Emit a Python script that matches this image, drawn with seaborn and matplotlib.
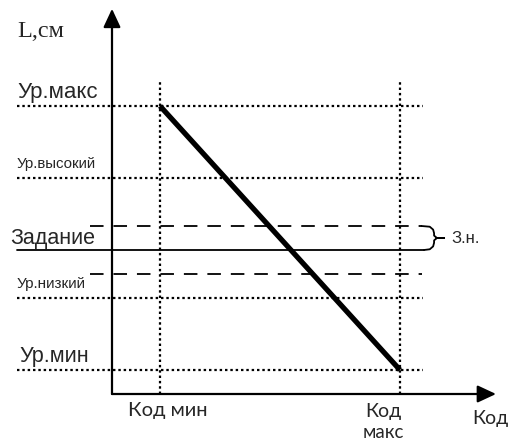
import numpy as np
import matplotlib
matplotlib.use("Agg")
import matplotlib.pyplot as plt
import seaborn as sns

# levels (y units) and codes (x units)
level_names = ["Ур.макс", "Ур.высокий", "Ур.низкий", "Ур.мин"]
level_values = [12, 9, 4, 1]
setpoint_name = "Задание"
setpoint_value = 6
band_values = [7, 5]          # зона нечувствительности
band_label = "З.н."
code_names = ["Код мин", "Код", "макс"]
code_values = [1, 6]
line_x = [1, 6]               # код -> уровень
line_y = [12, 1]
x_label = "Код"
y_label = "L,см"

sns.set_theme(style="white")
plt.rcParams["font.family"] = ["Liberation Sans", "DejaVu Sans"]

fig = plt.figure(figsize=(5.12, 4.43), dpi=100)
ax = fig.add_axes([0, 0, 1, 1])
ax.set_xlim(-112 / 48, 400 / 48)
ax.set_ylim(-49 / 24, 394 / 24)
ax.axis("off")

# horizontal level lines (dotted)
dot = (0, (1.1, 1.3))
for v in level_values:
    ax.plot([-1.98, 6.48], [v, v], color="black", lw=1.6, linestyle=dot)
# band dashed
for v in band_values:
    ax.plot([-0.46, 6.45], [v, v], color="black", lw=1.3, linestyle=(0, (7.5, 5.5)))
# setpoint solid
ax.plot([-1.98, 6.5], [setpoint_value, setpoint_value], color="black", lw=1.3)

# vertical code lines
for c in code_values:
    ax.plot([c, c], [0, 13], color="black", lw=1.6, linestyle=dot)

# main line
sns.lineplot(x=line_x, y=line_y, color="black", linewidth=3.8, ax=ax,
             solid_capstyle="butt")

# axes with arrows
ax.annotate("", xy=(0, 16.05), xytext=(0, 0),
            arrowprops=dict(arrowstyle="-|>,head_length=0.75,head_width=0.35",
                            mutation_scale=15, lw=1.6, color="black",
                            shrinkA=0, shrinkB=0))
ax.annotate("", xy=(8.0, 0), xytext=(0, 0),
            arrowprops=dict(arrowstyle="-|>,head_length=0.75,head_width=0.35",
                            mutation_scale=15, lw=1.6, color="black",
                            shrinkA=0, shrinkB=0))

# brace for the band
bx0, bx1, bt = 6.5, 6.71, 6.92
top, bot = band_values[0], setpoint_value
mid = (top + bot) / 2
bx = [6.45, 6.62, bx0 + 0.19, bx1, bx1, bx1 + 0.06, bt, bx1 + 0.06, bx1, bx1, bx0 + 0.19, 6.62, 6.5]
by = [top, top - 0.03, top - 0.15, top - 0.3, mid + 0.1, mid, mid, mid, mid - 0.1, bot + 0.3, bot + 0.15, bot + 0.03, bot]
ax.plot(bx, by, color="black", lw=1.3)
ax.text(7.08, mid - 0.03, band_label, fontsize=12, va="center", ha="left")

# level labels
sizes = [16, 10.8, 11, 15.6]
for name, v, s in zip(level_names, level_values, sizes):
    ax.text(-1.98 if s != 15.6 else -1.92, v + 0.58, name, fontsize=s,
            va="center", ha="left")
ax.text(-2.13, setpoint_value + 0.46, setpoint_name, fontsize=15.5, va="center", ha="left")

# code labels
cf = ["Lato", "DejaVu Sans"]
ax.text(code_values[0] - 0.67, -0.67, code_names[0], fontsize=14.5, va="center",
        ha="left", family=cf)
ax.text(code_values[1] - 0.35, -0.75, code_names[1], fontsize=14, va="center",
        ha="center", family=cf)
ax.text(code_values[1] - 0.35, -1.6, code_names[2], fontsize=13.5, va="center",
        ha="center", family=cf)
ax.text(7.5, -1.04, x_label, fontsize=14, va="center", ha="left", family=cf)
ax.text(-1.98, 15.12, y_label, fontsize=17.5, va="center", ha="left",
        family=["Liberation Serif", "DejaVu Serif"])

fig.savefig("out.png", dpi=100)
